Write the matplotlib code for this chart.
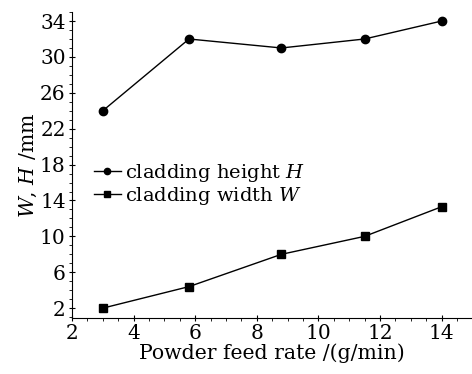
import matplotlib
matplotlib.use("Agg")
import matplotlib.pyplot as plt
from matplotlib.ticker import MultipleLocator

feed_rate = [3.0, 5.8, 8.8, 11.5, 14.0]
height_H = [24.0, 32.0, 31.0, 32.0, 34.0]
width_W = [2.0, 4.4, 8.0, 10.0, 13.3]
x_ticks = [2, 4, 6, 8, 10, 12, 14]
y_ticks = [2, 6, 10, 14, 18, 22, 26, 30, 34]

plt.rcParams['font.family'] = ['DejaVu Serif']
plt.rcParams['mathtext.fontset'] = 'dejavuserif'

fig = plt.figure(figsize=(4.72, 3.74), dpi=100)
ax = fig.add_axes([0.1525, 0.1497, 0.845, 0.818])

ax.plot(feed_rate, height_H, '-o', color='black', lw=1.0, ms=6, label='cladding height $H$')
ax.plot(feed_rate, width_W, '-s', color='black', lw=1.0, ms=5.5, label='cladding width $W$')

ax.set_xlim(2, 14.95)
ax.set_ylim(0.9, 35.0)
ax.set_xticks(x_ticks)
ax.set_yticks(y_ticks)
ax.xaxis.set_minor_locator(MultipleLocator(0.5))
ax.yaxis.set_minor_locator(MultipleLocator(1))
for s in ['top', 'right']:
    ax.spines[s].set_visible(False)
ax.tick_params(which='major', direction='inout', length=5, width=0.8, labelsize=14.5, pad=2)
ax.tick_params(which='minor', direction='out', length=2, width=0.6)

ax.set_xlabel('Powder feed rate /(g/min)', fontsize=14.7, labelpad=0)
ax.set_ylabel('$W$, $H$ /mm', fontsize=14.7, labelpad=1)

ax.legend(loc='upper left', bbox_to_anchor=(0.025, 0.548), frameon=False, fontsize=14,
          handlelength=1.4, handletextpad=0.2, labelspacing=0.05, borderaxespad=0.2,
          markerscale=0.75)

fig.savefig('out.png', dpi=100)
